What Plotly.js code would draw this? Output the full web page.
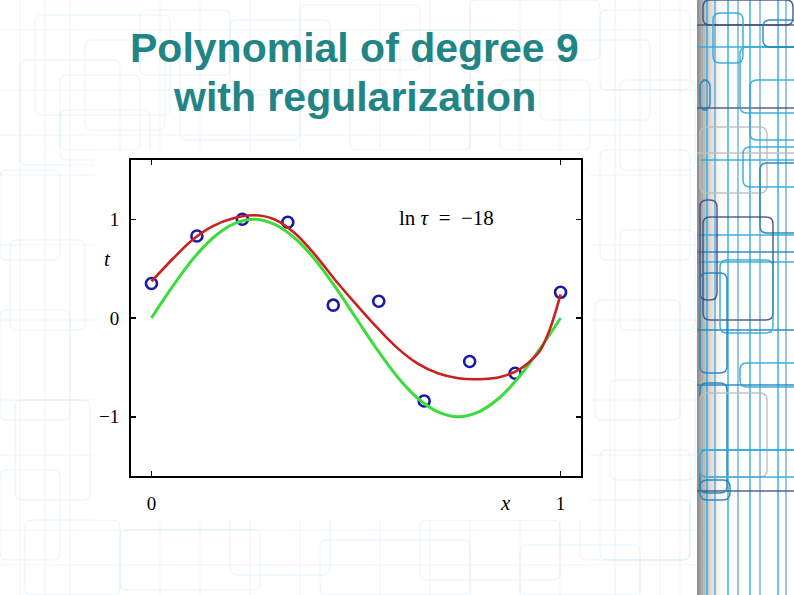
<!DOCTYPE html>
<html>
<head>
<meta charset="utf-8">
<script src="https://cdn.plot.ly/plotly-3.0.1.min.js"></script>
<style>
html,body{margin:0;padding:0;background:#fff;}
#chart{width:794px;height:595px;}
</style>
</head>
<body>
<div id="chart"></div>
<script>
// ---- data ----
const pointX = [0, 0.1111, 0.2222, 0.3333, 0.4444, 0.5556, 0.6667, 0.7778, 0.8889, 1];
const pointT = [0.35, 0.83, 1.00, 0.97, 0.13, 0.17, -0.84, -0.44, -0.56, 0.26];

const curveX = [0, 0.05, 0.1, 0.15, 0.2, 0.25, 0.3, 0.35, 0.4, 0.45, 0.5, 0.55, 0.6, 0.65, 0.7, 0.75, 0.8, 0.85, 0.9, 0.95, 1];
const greenT = [0, 0.31, 0.59, 0.81, 0.95, 1.00, 0.95, 0.81, 0.59, 0.31, 0, -0.31, -0.59, -0.81, -0.95, -1.00, -0.95, -0.81, -0.59, -0.31, 0];

const fitX = [0, 0.05, 0.1, 0.15, 0.2, 0.25, 0.3, 0.35, 0.4, 0.45, 0.5, 0.55, 0.6, 0.65, 0.7, 0.75, 0.8, 0.85, 0.9, 0.925, 0.95, 0.975, 1];
const redT = [0.37, 0.59, 0.79, 0.93, 1.01, 1.04, 1.00, 0.86, 0.64, 0.38, 0.14, -0.09, -0.30, -0.46, -0.56, -0.61, -0.62, -0.60, -0.52, -0.44, -0.33, -0.10, 0.24];

const xTicks = [0, 1];
const yTicks = [-1, 0, 1];
const xTickText = ['0', '1'];
const yTickText = ['\u22121', '0', '1'];

const titleLines = ['Polynomial of degree 9', 'with regularization'];
const lnLabel = 'ln <i>\u03c4</i>  =  \u221218';

// ---- geometry helpers (pixel -> paper) ----
const L = 131, R = 581, T = 160, B = 476;
const px = X => (X - L) / (R - L);
const py = Y => (B - Y) / (B - T);

function rrPath(X0, Y0, X1, Y1, r) {
  const p = (X, Y) => px(X).toFixed(5) + ',' + py(Y).toFixed(5);
  return 'M' + p(X0 + r, Y0) + ' L' + p(X1 - r, Y0) + ' Q' + p(X1, Y0) + ' ' + p(X1, Y0 + r) +
    ' L' + p(X1, Y1 - r) + ' Q' + p(X1, Y1) + ' ' + p(X1 - r, Y1) +
    ' L' + p(X0 + r, Y1) + ' Q' + p(X0, Y1) + ' ' + p(X0, Y1 - r) +
    ' L' + p(X0, Y0 + r) + ' Q' + p(X0, Y0) + ' ' + p(X0 + r, Y0) + ' Z';
}

const shapes = [];
function addRR(X0, Y0, X1, Y1, color, w) {
  shapes.push({type: 'path', xref: 'paper', yref: 'paper', layer: 'below',
    path: rrPath(X0, Y0, X1, Y1, 7), line: {color: color, width: w || 1}});
}
function addLine(X0, Y0, X1, Y1, color, w) {
  shapes.push({type: 'line', xref: 'paper', yref: 'paper', layer: 'below',
    x0: px(X0), y0: py(Y0), x1: px(X1), y1: py(Y1), line: {color: color, width: w || 1}});
}
function addRect(X0, Y0, X1, Y1, fill) {
  shapes.push({type: 'rect', xref: 'paper', yref: 'paper', layer: 'below',
    x0: px(X0), y0: py(Y0), x1: px(X1), y1: py(Y1), fillcolor: fill, line: {width: 0}});
}

// faint background pattern (left part of the slide)
const faint = 'rgba(175,212,232,0.3)';
const faintRects = [
  [35,15,170,115],[20,60,120,165],[85,40,165,130],[60,75,140,150],[140,10,230,75],
  [230,20,330,95],[300,5,420,70],[400,30,520,110],[470,0,600,60],[540,40,650,120],
  [600,10,690,90],[620,80,695,170],[600,150,690,260],[620,230,695,330],[595,300,680,420],
  [610,380,695,480],[600,450,690,560],[0,170,60,260],[10,240,85,330],[0,310,70,420],
  [15,400,90,500],[0,470,60,560],[25,520,120,595],[120,530,260,590],[230,510,330,575],
  [320,540,470,595],[420,520,560,580],[520,545,640,595],[580,500,690,560],[60,110,150,160],
  [180,50,300,140],[350,60,470,150],[500,80,590,150]
];
faintRects.forEach(r => addRR(r[0], r[1], r[2], r[3], faint, 1));
[20, 45, 70, 160, 200, 250, 300, 380, 430, 470, 520, 560, 615, 640, 660, 680].forEach(X => addLine(X, 0, X, 595, 'rgba(190,220,238,0.25)', 1));
[30, 90, 135, 175, 245, 320, 400, 455, 530, 565].forEach(Y => addLine(0, Y, 697, Y, 'rgba(190,220,238,0.25)', 1));

// white area of the figure image
addRect(95, 150, 590, 520, '#ffffff');

// right strip: shadow
addRect(697, 0, 794, 595, '#ffffff');
for (let i = 0; i < 15; i++) {
  const a = 0.65 * Math.pow(1 - i / 15, 2);
  addRect(697 + i * 2, 0, 699 + i * 2, 595, 'rgba(85,85,85,' + a.toFixed(3) + ')');
}

// right strip: coloured lines
const cBlue = 'rgba(40,170,215,0.9)', cBlue2 = 'rgba(30,130,185,0.9)', cNavy = 'rgba(55,70,120,0.85)', cGray = 'rgba(190,190,190,0.9)';
[707, 728, 750, 778].forEach(X => addLine(X, 0, X, 595, cBlue, 1.5));
[715, 738, 760, 786].forEach(X => addLine(X, 0, X, 595, cBlue2, 1));
[[25, cNavy], [47, cBlue], [108, cNavy], [153, cGray], [160, cBlue], [235, cBlue], [252, cBlue2], [262, cBlue], [330, cBlue2], [385, cBlue2], [450, cBlue], [491, cNavy]].forEach(h => addLine(697, h[0], 794, h[0], h[1], 1.5));
const rightRects = [
  [703,0,793,25,cNavy],[713,13,743,63,cBlue],[740,47,800,113,cBlue],[763,20,800,47,cBlue2],
  [700,80,710,110,cBlue2],[700,127,767,193,cGray],[743,147,800,187,cBlue],[760,163,800,233,cBlue2],
  [700,200,717,300,cNavy],[703,217,773,320,cNavy],[720,260,773,333,cBlue],[700,273,727,373,cBlue2],
  [740,363,800,387,cBlue],[700,383,727,493,cBlue2],[700,393,767,477,cGray],[700,450,800,477,cBlue],
  [700,480,730,500,cBlue2],[750,80,800,140,cBlue]
];
rightRects.forEach(r => addRR(r[0], r[1], r[2], r[3], r[4], 1.5));

// ---- traces ----
const traces = [
  {x: pointX, y: pointT, type: 'scatter', mode: 'markers',
   marker: {symbol: 'circle-open', size: 11, color: '#1a1aa8', line: {width: 2.6, color: '#1a1aa8'}},
   hoverinfo: 'skip'},
  {x: curveX, y: greenT, type: 'scatter', mode: 'lines',
   line: {color: '#3cdc3c', width: 3, shape: 'spline', smoothing: 1}, hoverinfo: 'skip'},
  {x: fitX, y: redT, type: 'scatter', mode: 'lines',
   line: {color: '#cc1f1f', width: 2.6, shape: 'spline', smoothing: 1}, hoverinfo: 'skip'}
];

const serif = 'Liberation Serif, DejaVu Serif, serif';
const axisCommon = {
  showline: true, linecolor: '#000', linewidth: 2, mirror: 'ticks',
  ticks: 'inside', ticklen: 5, tickwidth: 1.5, tickcolor: '#000',
  showgrid: false, zeroline: false, fixedrange: true,
  tickfont: {family: serif, size: 19, color: '#000'}
};

const layout = {
  width: 794, height: 595,
  margin: {l: L, r: 794 - R, t: T, b: 595 - B, pad: 0},
  paper_bgcolor: 'rgba(0,0,0,0)', plot_bgcolor: '#ffffff',
  showlegend: false,
  xaxis: Object.assign({}, axisCommon, {range: [-0.05, 1.05], tickvals: xTicks, ticktext: xTickText, ticklabelstandoff: 9}),
  yaxis: Object.assign({}, axisCommon, {range: [-1.6, 1.6], tickvals: yTicks, ticktext: yTickText, ticklabelstandoff: 6}),
  shapes: shapes,
  annotations: [
    {text: '<b>' + titleLines[0] + '</b>', xref: 'paper', yref: 'paper', x: px(354), y: py(48),
     xanchor: 'center', yanchor: 'middle', showarrow: false,
     font: {family: 'Liberation Sans, Arial, sans-serif', size: 41, color: '#218585'}},
    {text: '<b>' + titleLines[1] + '</b>', xref: 'paper', yref: 'paper', x: px(354), y: py(97),
     xanchor: 'center', yanchor: 'middle', showarrow: false,
     font: {family: 'Liberation Sans, Arial, sans-serif', size: 41, color: '#218585'}},
    {text: lnLabel, xref: 'paper', yref: 'paper', x: px(446), y: py(218),
     xanchor: 'center', yanchor: 'middle', showarrow: false,
     font: {family: serif, size: 21, color: '#000'}},
    {text: '<i>t</i>', xref: 'paper', yref: 'paper', x: px(107), y: py(259),
     xanchor: 'center', yanchor: 'middle', showarrow: false,
     font: {family: serif, size: 21, color: '#000'}},
    {text: '<i>x</i>', xref: 'paper', yref: 'paper', x: px(505), y: py(503),
     xanchor: 'center', yanchor: 'middle', showarrow: false,
     font: {family: serif, size: 21, color: '#000'}}
  ]
};

Plotly.newPlot('chart', traces, layout, {displayModeBar: false, staticPlot: true});
</script>
</body>
</html>
